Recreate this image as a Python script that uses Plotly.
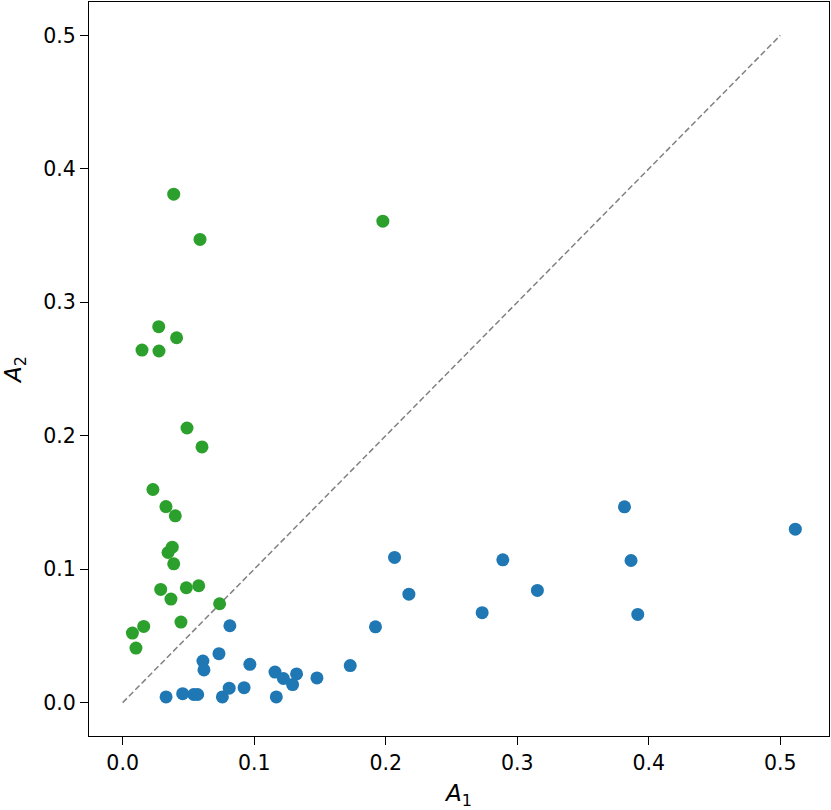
import plotly.graph_objects as go

# group 1 (blue): A1, A2
blue_a1 = [0.0815, 0.0732, 0.0610, 0.0618, 0.0967, 0.0330, 0.0456, 0.0540, 0.0570, 0.0758,
           0.0810, 0.0923, 0.1158, 0.1222, 0.1168, 0.1292, 0.1322, 0.1477, 0.1730, 0.1922,
           0.2067, 0.2176, 0.2733, 0.2890, 0.3153, 0.3815, 0.3865, 0.3916, 0.5114]
blue_a2 = [0.0576, 0.0367, 0.0312, 0.0245, 0.0287, 0.0043, 0.0067, 0.0061, 0.0061, 0.0043,
           0.0108, 0.0112, 0.0229, 0.0181, 0.0043, 0.0135, 0.0215, 0.0185, 0.0278, 0.0568,
           0.1088, 0.0813, 0.0674, 0.1070, 0.0841, 0.1467, 0.1065, 0.0661, 0.1300]

# group 2 (green): A1, A2
green_a1 = [0.0388, 0.0588, 0.1978, 0.0274, 0.0410, 0.0147, 0.0276, 0.0489, 0.0603,
            0.0230, 0.0329, 0.0400, 0.0377, 0.0345, 0.0388, 0.0289, 0.0484, 0.0578,
            0.0367, 0.0737, 0.0443, 0.0160, 0.0074, 0.0101]
green_a2 = [0.3810, 0.3471, 0.3608, 0.2817, 0.2734, 0.2642, 0.2635, 0.2058, 0.1916,
            0.1597, 0.1469, 0.1400, 0.1165, 0.1125, 0.1040, 0.0848, 0.0861, 0.0876,
            0.0776, 0.0741, 0.0604, 0.0571, 0.0521, 0.0409]

diag = [0, 0.5]
ticks = [0, 0.1, 0.2, 0.3, 0.4, 0.5]
tick_text = ["0.0", "0.1", "0.2", "0.3", "0.4", "0.5"]

fig = go.Figure()

fig.add_trace(go.Scatter(x=diag, y=diag, mode="lines",
                         line=dict(color="#808080", width=1.5, dash="6px,3px"),
                         hoverinfo="skip"))
fig.add_trace(go.Scatter(x=blue_a1, y=blue_a2, mode="markers",
                         marker=dict(color="#1f77b4", size=13, line=dict(width=0))))
fig.add_trace(go.Scatter(x=green_a1, y=green_a2, mode="markers",
                         marker=dict(color="#2ca02c", size=13, line=dict(width=0))))

axis_common = dict(
    showgrid=False, zeroline=False,
    showline=True, linecolor="black", linewidth=1.3, mirror=True,
    ticks="outside", ticklen=8, tickwidth=1.3, tickcolor="black",
    tickfont=dict(family="DejaVu Sans", size=20.5, color="black"),
    automargin=False,
)

fig.update_layout(
    width=831, height=810,
    margin=dict(l=89, r=2, t=2, b=74),
    plot_bgcolor="white", paper_bgcolor="white",
    showlegend=False,
    xaxis=dict(axis_common, range=[-0.0256, 0.5370], tickvals=ticks, ticktext=tick_text,
               title=dict(text="<i>A</i><sub>1</sub>", standoff=13,
                          font=dict(family="DejaVu Sans", size=23, color="black"))),
    yaxis=dict(axis_common, range=[-0.025, 0.525], tickvals=ticks, ticktext=tick_text,
               title=dict(text="<i>A</i><sub>2</sub>", standoff=18,
                          font=dict(family="DejaVu Sans", size=23, color="black"))),
)

# page body has a default margin; drop it so the figure sits at the window corner
fig.write_html("out.html", config={"displayModeBar": False},
               post_script="document.body.style.margin='0';")
